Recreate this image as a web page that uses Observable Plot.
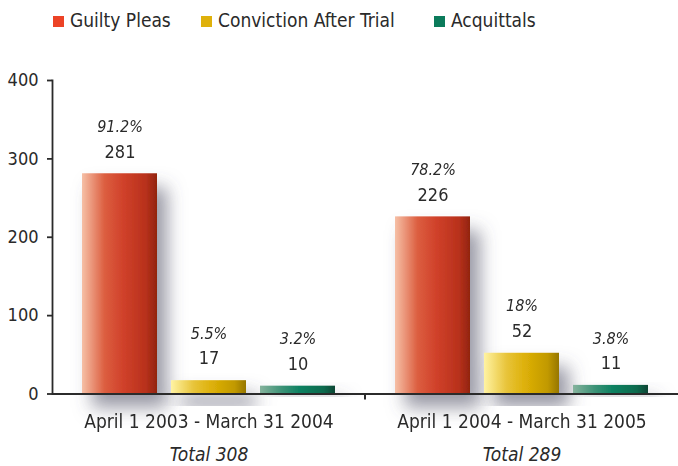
<!DOCTYPE html>
<html>
<head>
<meta charset="utf-8">
<script src="https://cdn.jsdelivr.net/npm/d3@7"></script>
<script src="https://cdn.jsdelivr.net/npm/@observablehq/plot@0.6"></script>
<style>
  html, body { margin: 0; padding: 0; background: #fff; }
  body { width: 678px; height: 466px; overflow: hidden;
         font-family: "Liberation Sans Narrow", "DejaVu Sans Condensed", "Roboto Condensed", "Liberation Sans", sans-serif; color: #2a2a2a; }
  #legend { position: relative; height: 40px; }
  .item { position: absolute; top: 8px; font-size: 19px; line-height: 24px; white-space: nowrap; }
  .sw { display: inline-block; width: 11px; height: 11px; margin-right: 6px; vertical-align: 0px; }
</style>
</head>
<body>
<div id="legend"></div>
<div id="chart"></div>
<script>
const periods = ["April 1 2003 - March 31 2004", "April 1 2004 - March 31 2005"];
const totals = ["Total 308", "Total 289"];
const series = ["Guilty Pleas", "Conviction After Trial", "Acquittals"];
const guiltyPleas = [281, 226];
const convictionAfterTrial = [17, 52];
const acquittals = [10, 11];
const pctGuiltyPleas = ["91.2%", "78.2%"];
const pctConviction = ["5.5%", "18%"];
const pctAcquittals = ["3.2%", "3.8%"];
const yTicks = [0, 100, 200, 300, 400];

const swatch = ["#ec4326", "#dfb10b", "#0b7b5b"];
const gradIds = ["gRed", "gYellow", "gGreen"];
const legendX = [53, 201, 434];

const FONT = '"Liberation Sans Narrow", "DejaVu Sans Condensed", "Roboto Condensed", "Liberation Sans", sans-serif';

// legend
const legend = document.getElementById("legend");
series.forEach((s, i) => {
  const d = document.createElement("div");
  d.className = "item";
  d.style.left = legendX[i] + "px";
  d.innerHTML = `<span class="sw" style="background:${swatch[i]}"></span>${s}`;
  legend.appendChild(d);
});

const valuesBySeries = [guiltyPleas, convictionAfterTrial, acquittals];
const pctBySeries = [pctGuiltyPleas, pctConviction, pctAcquittals];
const rows = [];
series.forEach((s, si) => {
  periods.forEach((p, pi) => {
    rows.push({series: s, si, period: p, value: valuesBySeries[si][pi], pct: pctBySeries[si][pi]});
  });
});
const groupRows = periods.map((p, i) => ({period: p, total: totals[i]}));

const marks = [];
series.forEach((s, si) => {
  marks.push(Plot.barY(rows.filter(r => r.si === si), {
    fx: "period", x: "series", y: "value", fill: `url(#${gradIds[si]})`
  }));
});
marks.push(Plot.ruleY([0], {stroke: "#2b2b2b", strokeWidth: 2}));
marks.push(Plot.text(rows, {fx: "period", x: "series", y: "value", text: d => String(d.value),
  dy: -22, fontSize: 18, fill: "#2a2a2a"}));
marks.push(Plot.text(rows, {fx: "period", x: "series", y: "value", text: "pct",
  dy: -47, fontSize: 16, fontStyle: "italic", fill: "#2a2a2a"}));
marks.push(Plot.text(groupRows, {fx: "period", frameAnchor: "bottom", text: "period",
  lineAnchor: "bottom", dy: 34, fontSize: 19, fill: "#2a2a2a"}));
marks.push(Plot.text(groupRows, {fx: "period", frameAnchor: "bottom", text: "total",
  lineAnchor: "bottom", dy: 67, fontSize: 19, fontStyle: "italic", fill: "#2a2a2a"}));

const chart = Plot.plot({
  width: 678,
  height: 426,
  marginLeft: 52,
  marginRight: 0,
  marginTop: 40,
  marginBottom: 72.5,
  style: {fontFamily: FONT, fontSize: "18px", color: "#2a2a2a", background: "transparent", overflow: "visible"},
  fx: {domain: periods, padding: 0, axis: null, label: null},
  x: {domain: series, paddingInner: 0.156, paddingOuter: 0.327, axis: null, label: null},
  y: {domain: [0, 400], ticks: yTicks, tickSize: 5, tickPadding: 9, line: true, label: null,
      tickFormat: d => String(d)},
  marks
});
document.getElementById("chart").appendChild(chart);

const svg = d3.select(chart);
// darker, heavier y axis line and ticks (not the labels)
svg.selectAll('g[aria-label^="y-axis"], g[aria-label="frame"]')
  .attr("stroke", "#2b2b2b").attr("stroke-width", 1.8).attr("stroke-opacity", 1);
svg.selectAll('g[aria-label^="y-axis"] text, g[aria-label="frame"] text')
  .attr("stroke", "none");

// defs: gradients and shadow
const defs = svg.insert("defs", ":first-child");
const stops = [
  [["0%", "#f6c0a6"], ["30%", "#dc5e40"], ["55%", "#d0412a"], ["85%", "#b8311c"], ["100%", "#92240f"]],
  [["0%", "#fff3a3"], ["30%", "#e8c43a"], ["55%", "#ddb008"], ["85%", "#c19900"], ["100%", "#967600"]],
  [["0%", "#86b39d"], ["30%", "#3a9276"], ["55%", "#0a8060"], ["85%", "#0b6a4e"], ["100%", "#0d4634"]]
];
gradIds.forEach((id, i) => {
  const g = defs.append("linearGradient").attr("id", id)
    .attr("x1", "0").attr("x2", "1").attr("y1", "0").attr("y2", "0");
  stops[i].forEach(([o, c]) => g.append("stop").attr("offset", o).attr("stop-color", c));
});
const f = defs.append("filter").attr("id", "shadow")
  .attr("x", "-30%").attr("y", "-30%").attr("width", "180%").attr("height", "160%");
f.append("feDropShadow").attr("dx", 10).attr("dy", 14).attr("stdDeviation", 9)
  .attr("flood-color", "#55556a").attr("flood-opacity", 0.6);
svg.selectAll('g[aria-label="bar"]').attr("filter", "url(#shadow)");

// divider tick between the two periods on the x axis
const fx = chart.scale("fx");
const yS = chart.scale("y");
const xDiv = fx.apply(periods[1]);
const y0 = yS.apply(0);
svg.append("line").attr("x1", xDiv).attr("x2", xDiv).attr("y1", y0).attr("y2", y0 + 6)
  .attr("stroke", "#2b2b2b").attr("stroke-width", 2);
</script>
</body>
</html>
